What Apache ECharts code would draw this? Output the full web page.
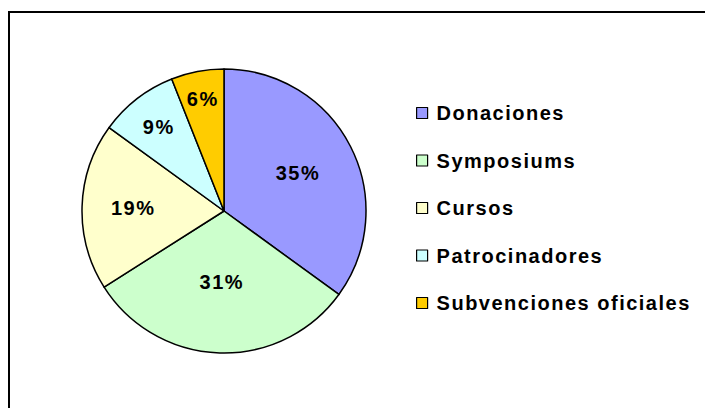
<!DOCTYPE html>
<html>
<head>
<meta charset="utf-8">
<script src="https://cdn.jsdelivr.net/npm/echarts@6/dist/echarts.min.js"></script>
<style>
  html, body { margin: 0; padding: 0; background: #fff; }
  #chart { width: 705px; height: 408px; }
  #chart text { letter-spacing: 1.5px; }
</style>
</head>
<body>
<div id="chart"></div>
<script>
const categories = ['Donaciones', 'Symposiums', 'Cursos', 'Patrocinadores', 'Subvenciones oficiales'];
const values = [35, 31, 19, 9, 6];
const colors = ['#9999FF', '#CCFFCC', '#FFFFCC', '#CCFFFF', '#FFCC00'];
const labelRadiusFrac = [0.585, 0.5, 0.64, 0.75, 0.8];

const CX = 224, CY = 211, R = 142;
const FONT = '"Liberation Sans", Arial, sans-serif';

const chart = echarts.init(document.getElementById('chart'), null, { renderer: 'svg' });
chart.setOption({
  animation: false,
  backgroundColor: '#ffffff',
  color: colors,
  graphic: [{
    type: 'rect',
    shape: { x: 9, y: 12, width: 900, height: 600 },
    style: { fill: 'none', stroke: '#000', lineWidth: 2 },
    silent: true
  }],
  legend: {
    orient: 'vertical',
    left: 411,
    top: 98,
    itemWidth: 11,
    itemHeight: 11,
    itemGap: 27.5,
    icon: 'rect',
    selectedMode: false,
    itemStyle: { borderColor: '#000', borderWidth: 1.2 },
    textStyle: { fontFamily: FONT, fontWeight: 'bold', fontSize: 20, color: '#000', padding: [0, 0, 0, 4] },
    data: categories
  },
  series: [{
    type: 'pie',
    center: [CX, CY],
    radius: [0, R],
    startAngle: 90,
    clockwise: true,
    avoidLabelOverlap: false,
    itemStyle: { borderColor: '#000', borderWidth: 1.5 },
    emphasis: { disabled: true },
    label: {
      position: 'inside',
      formatter: '{c}%',
      fontFamily: FONT,
      fontWeight: 'bold',
      fontSize: 20,
      color: '#000'
    },
    labelLine: { show: false },
    labelLayout: function (p) {
      const r = p.labelRect;
      const lx = r.x + r.width / 2, ly = r.y + r.height / 2;
      const dx = lx - CX, dy = ly - CY;
      const d = Math.sqrt(dx * dx + dy * dy) || 1;
      const t = labelRadiusFrac[p.dataIndex] * R;
      return { x: CX + dx / d * t, y: CY + dy / d * t, align: 'center', verticalAlign: 'middle' };
    },
    data: categories.map((c, i) => ({ name: c, value: values[i] }))
  }]
});
</script>
</body>
</html>
